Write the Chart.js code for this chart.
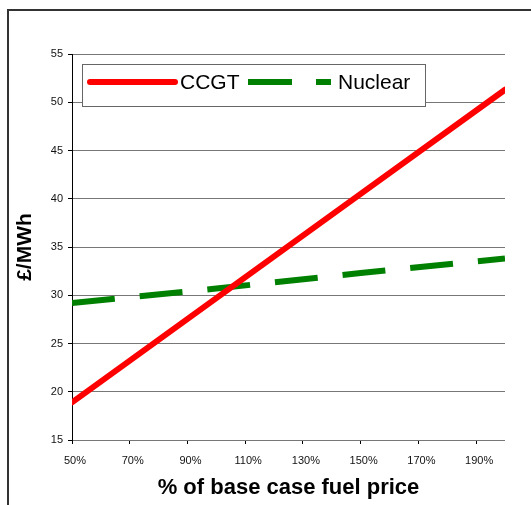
<!DOCTYPE html>
<html>
<head>
<meta charset="utf-8">
<script src="https://cdn.jsdelivr.net/npm/chart.js@4/dist/chart.umd.min.js"></script>
<style>
    html, body { margin: 0; padding: 0; background: #fff; overflow: hidden; }
    #frame {
        position: absolute; left: 7px; top: 9px; width: 540px; height: 520px;
        border-left: 2px solid #333; border-top: 2px solid #333;
    }
    #wrap { position: absolute; left: 0; top: 0; width: 531px; height: 505px; }
</style>
</head>
<body>
<div id="frame"></div>
<div id="wrap"><canvas id="grafico"></canvas></div>
<script>
// valores
const fuelPrice = [50, 100, 150, 200];
const ccgt = [18.9, 29.7, 40.5, 51.3];
const nuclear = [29.2, 30.7, 32.3, 33.8];
const xTicks = [50, 70, 90, 110, 130, 150, 170, 190];
const yTicks = [15, 20, 25, 30, 35, 40, 45, 50, 55];
const seriesNames = ['CCGT', 'Nuclear'];

const toPoints = (vals) => fuelPrice.map((x, i) => ({x: x, y: vals[i]}));

// legenda desenhada à mão, com caixa, como no original
const legendaBox = {
    id: 'legendaBox',
    afterDraw(chart) {
        const ctx = chart.ctx;
        const ds = chart.data.datasets;
        ctx.save();
        ctx.fillStyle = '#fff';
        ctx.strokeStyle = '#666';
        ctx.lineWidth = 1;
        ctx.fillRect(82, 64, 343, 42);
        ctx.strokeRect(82.5, 64.5, 343, 42);

        ctx.lineWidth = 6;
        ctx.strokeStyle = ds[0].borderColor;
        ctx.lineCap = 'round';
        ctx.beginPath();
        ctx.moveTo(90, 82);
        ctx.lineTo(175, 82);
        ctx.stroke();

        ctx.strokeStyle = ds[1].borderColor;
        ctx.lineCap = 'butt';
        ctx.setLineDash([44, 24]);
        ctx.beginPath();
        ctx.moveTo(248, 82);
        ctx.lineTo(331, 82);
        ctx.stroke();
        ctx.setLineDash([]);

        ctx.fillStyle = '#000';
        ctx.font = '21px "Liberation Sans", Arial, sans-serif';
        ctx.textBaseline = 'middle';
        ctx.fillText(ds[0].label, 180, 83);
        ctx.fillText(ds[1].label, 338, 83);
        ctx.restore();
    }
};

const ctx = document.getElementById('grafico').getContext('2d');
new Chart(ctx, {
    type: 'line',
    data: {
        datasets: [
            {
                label: seriesNames[0],
                data: toPoints(ccgt),
                borderColor: '#ff0000',
                borderWidth: 6,
                borderCapStyle: 'round',
                pointRadius: 0,
                tension: 0,
                fill: false
            },
            {
                label: seriesNames[1],
                data: toPoints(nuclear),
                borderColor: '#008000',
                borderWidth: 6,
                borderDash: [43, 25],
                pointRadius: 0,
                tension: 0,
                fill: false
            }
        ]
    },
    options: {
        responsive: true,
        maintainAspectRatio: false,
        animation: false,
        layout: { padding: { left: 0, top: 54, right: 26, bottom: 0 } },
        plugins: {
            legend: { display: false },
            tooltip: { enabled: false }
        },
        scales: {
            x: {
                type: 'linear',
                min: 50,
                max: 200,
                afterBuildTicks: function(scale) {
                    scale.ticks = xTicks.map(v => ({value: v}));
                },
                afterFit: function(scale) { scale.height = 65; },
                ticks: {
                    callback: v => v + '%',
                    color: '#111',
                    font: { family: '"Liberation Sans", Arial, sans-serif', size: 11 },
                    padding: 10,
                    labelOffset: 3,
                    maxRotation: 0,
                    autoSkip: false
                },
                grid: {
                    drawOnChartArea: false,
                    drawTicks: true,
                    tickLength: 4,
                    color: '#000'
                },
                border: { display: false },
                title: {
                    display: true,
                    text: '% of base case fuel price',
                    color: '#000',
                    font: { family: '"Liberation Sans", Arial, sans-serif', size: 22, weight: 'bold' },
                    padding: { top: 0, bottom: 4 }
                }
            },
            y: {
                min: 15,
                max: 55,
                afterBuildTicks: function(scale) {
                    scale.ticks = yTicks.map(v => ({value: v}));
                },
                afterFit: function(scale) { scale.width = 72; },
                ticks: {
                    color: '#111',
                    font: { family: '"Liberation Sans", Arial, sans-serif', size: 11 },
                    padding: 5
                },
                grid: {
                    color: '#777',
                    lineWidth: 1,
                    tickLength: 4,
                    tickColor: '#000'
                },
                border: { display: true, color: '#000', width: 1 },
                title: {
                    display: true,
                    text: '£/MWh',
                    color: '#000',
                    font: { family: '"Liberation Sans", Arial, sans-serif', size: 21, weight: 'bold' },
                    padding: { top: 13, bottom: 0 }
                }
            }
        }
    },
    plugins: [legendaBox]
});
</script>
</body>
</html>
